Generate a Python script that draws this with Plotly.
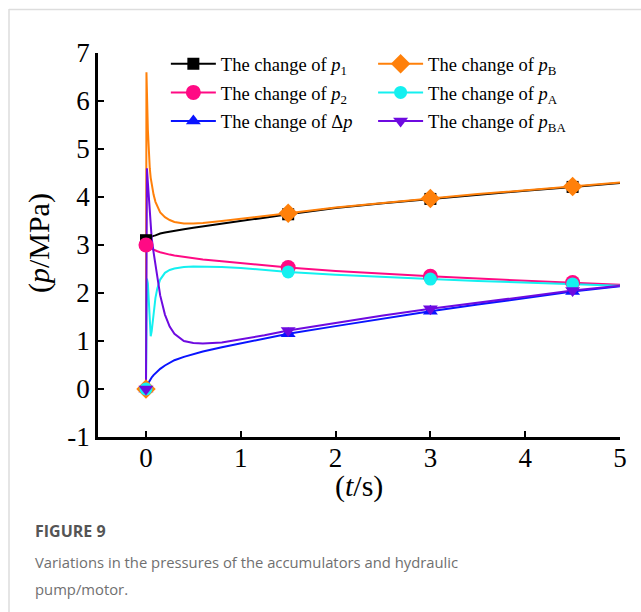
import plotly.graph_objects as go

# ---------------- data ----------------
t = [0, 0.005, 0.01, 0.02, 0.03, 0.04, 0.05, 0.06, 0.08, 0.1, 0.12, 0.15, 0.2, 0.25, 0.3,
     0.4, 0.5, 0.6, 0.8, 1.0, 1.25, 1.5, 2.0, 2.5, 3.0, 3.5, 4.0, 4.5, 5.0]

p1 = [3.1, 3.12, 3.13, 3.14, 3.15, 3.16, 3.17, 3.18, 3.19, 3.2, 3.22, 3.24, 3.26, 3.28, 3.3,
      3.33, 3.36, 3.39, 3.44, 3.5, 3.57, 3.64, 3.77, 3.87, 3.96, 4.05, 4.13, 4.21, 4.29]
p2 = [3.0, 2.99, 2.98, 2.96, 2.95, 2.94, 2.93, 2.92, 2.9, 2.88, 2.87, 2.85, 2.82, 2.8, 2.78,
      2.75, 2.72, 2.7, 2.66, 2.62, 2.57, 2.53, 2.46, 2.4, 2.35, 2.3, 2.26, 2.22, 2.17]
dp = [0, 0.04, 0.07, 0.1, 0.14, 0.18, 0.21, 0.24, 0.29, 0.33, 0.37, 0.42, 0.49, 0.55, 0.6,
      0.67, 0.73, 0.78, 0.87, 0.95, 1.05, 1.15, 1.31, 1.47, 1.62, 1.76, 1.9, 2.03, 2.14]
pB = [0, 6.6, 6.2, 5.4, 4.9, 4.6, 4.4, 4.25, 4.05, 3.9, 3.8, 3.68, 3.58, 3.52, 3.48,
      3.45, 3.45, 3.46, 3.5, 3.55, 3.61, 3.66, 3.78, 3.88, 3.97, 4.06, 4.14, 4.22, 4.3]
pA = [0, 2.0, 2.3, 2.2, 1.7, 1.25, 1.1, 1.2, 1.6, 1.9, 2.1, 2.28, 2.42, 2.48, 2.51,
      2.54, 2.55, 2.55, 2.54, 2.52, 2.48, 2.44, 2.38, 2.33, 2.29, 2.25, 2.22, 2.19, 2.15]
pBA = [0, 4.0, 4.6, 4.3, 3.95, 3.6, 3.35, 3.15, 2.85, 2.6, 2.3, 1.95, 1.55, 1.3, 1.15,
       1.0, 0.96, 0.95, 0.97, 1.03, 1.12, 1.22, 1.38, 1.53, 1.67, 1.8, 1.93, 2.05, 2.15]

marker_times = [0, 1.5, 3.0, 4.5]

x_ticks = [0, 1, 2, 3, 4, 5]
y_ticks = [-1, 0, 1, 2, 3, 4, 5, 6, 7]
y_ticktext = ["-1", "0", "1", "2", "3", "4", "5", "6", "7"]

series = [
    # name, values, color, symbol, size, legend
    ("The change of <i>p</i><sub>1</sub>", p1, "#000000", "square", 12, "legend"),
    ("The change of <i>p</i><sub>2</sub>", p2, "#ff0a84", "circle", 15, "legend"),
    ("The change of Δ<i>p</i>", dp, "#0a14ff", "triangle-up", 13, "legend"),
    ("The change of <i>p</i><sub>B</sub>", pB, "#ff800a", "diamond", 15, "legend2"),
    ("The change of <i>p</i><sub>A</sub>", pA, "#14f0f0", "circle", 13, "legend2"),
    ("The change of <i>p</i><sub>BA</sub>", pBA, "#6e0ae0", "triangle-down", 13, "legend2"),
]

fig = go.Figure()

# legend entries
for i, (name, vals, col, sym, sz, lg) in enumerate(series):
    fig.add_trace(go.Scatter(
        x=[None], y=[None], mode="lines+markers", name=name,
        line=dict(color=col, width=2),
        marker=dict(symbol=sym, size=sz, color=col),
        legend=lg, legendgroup="g%d" % i, showlegend=True))

# curves
for name, vals, col, sym, sz, lg in series:
    fig.add_trace(go.Scatter(
        x=t, y=vals, mode="lines", line=dict(color=col, width=2),
        showlegend=False, hoverinfo="skip"))

# markers
idx = [t.index(m) for m in marker_times]
for name, vals, col, sym, sz, lg in series:
    fig.add_trace(go.Scatter(
        x=[t[k] for k in idx], y=[vals[k] for k in idx], mode="markers",
        marker=dict(symbol=sym, size=sz, color=col),
        showlegend=False, hoverinfo="skip"))

serif = "Liberation Serif, Times New Roman, serif"

fig.update_layout(
    width=641, height=612,
    margin=dict(l=98, r=21, t=53, b=175),
    paper_bgcolor="white", plot_bgcolor="white",
    font=dict(family=serif, size=18, color="black"),
    showlegend=True,
    legend=dict(x=0.13, y=1.02, xanchor="left", yanchor="top",
                bgcolor="rgba(0,0,0,0)", traceorder="grouped",
                tracegroupgap=1.5, itemwidth=45,
                font=dict(family=serif, size=18.5)),
    legend2=dict(x=0.527, y=1.02, xanchor="left", yanchor="top",
                 bgcolor="rgba(0,0,0,0)", traceorder="grouped",
                 tracegroupgap=1.5, itemwidth=45,
                 font=dict(family=serif, size=18.5)),
    xaxis=dict(range=[-0.506, 5.0], tickvals=x_ticks, ticks="inside", ticklen=6,
               tickwidth=2, tickcolor="black", showline=True, linecolor="black",
               linewidth=2.5, showgrid=False, zeroline=False, ticklabelstandoff=-5,
               tickfont=dict(family=serif, size=27)),
    yaxis=dict(range=[-1, 7], tickvals=y_ticks, ticktext=y_ticktext, ticks="inside",
               ticklen=6, tickwidth=2, tickcolor="black", showline=True,
               linecolor="black", linewidth=2.5, showgrid=False, zeroline=False,
               tickfont=dict(family=serif, size=27)),
)

# axis titles
fig.add_annotation(text="(<i>t</i>/s)", x=0.5, xref="paper", y=(437 - 486) / 384, yref="paper",
                   showarrow=False, font=dict(family=serif, size=30),
                   xanchor="center", yanchor="middle")
fig.add_annotation(text="(<i>p</i>/MPa)", x=(39 - 98) / 522, xref="paper", y=0.505, yref="paper",
                   showarrow=False, textangle=-90, font=dict(family=serif, size=30),
                   xanchor="center", yanchor="middle")

# caption
sans = "Open Sans, Noto Sans, sans-serif"
fig.add_annotation(text="<b>FIGURE 9</b>", x=-0.125, xref="paper", y=(437 - 531) / 384, yref="paper",
                   showarrow=False, xanchor="left", yanchor="middle",
                   font=dict(family=sans, size=16, color="#555555"))
fig.add_annotation(text="Variations in the pressures of the accumulators and hydraulic",
                   x=-0.125, xref="paper", y=(437 - 562) / 384, yref="paper",
                   showarrow=False, xanchor="left", yanchor="middle", align="left",
                   font=dict(family=sans, size=14.8, color="#707070"))
fig.add_annotation(text="pump/motor.",
                   x=-0.125, xref="paper", y=(437 - 589) / 384, yref="paper",
                   showarrow=False, xanchor="left", yanchor="middle", align="left",
                   font=dict(family=sans, size=14.8, color="#707070"))

# card border
fig.add_shape(type="line", xref="paper", yref="paper",
              x0=(9 - 98) / 522, x1=(641 - 98) / 522, y0=(437 - 9.5) / 384, y1=(437 - 9.5) / 384,
              line=dict(color="#dddddd", width=1.5))
fig.add_shape(type="line", xref="paper", yref="paper",
              x0=(9 - 98) / 522, x1=(9 - 98) / 522, y0=(437 - 9) / 384, y1=(437 - 612) / 384,
              line=dict(color="#dddddd", width=1.5))

fig.write_html("out.html")
